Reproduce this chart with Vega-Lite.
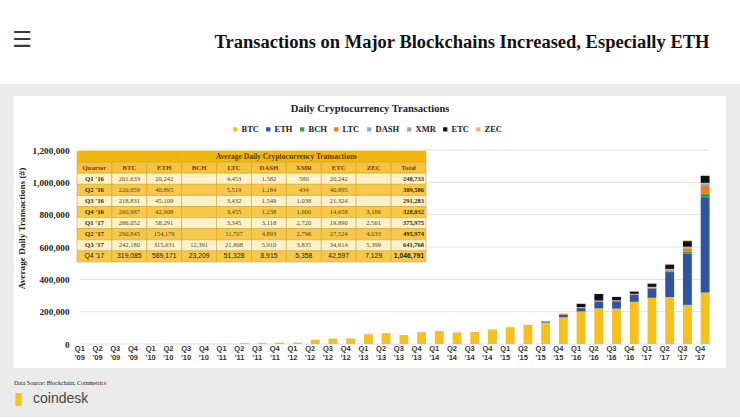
{
  "$schema": "https://vega.github.io/schema/vega-lite/v6.json",
  "background": "#EBEBEB",
  "padding": 0,
  "spacing": 12,
  "center": true,
  "config": {"view": {"stroke": null}},
  "datasets": {
    "tx": [
      {"q": "Q1 '09", "coin": "BTC", "v": 50},
      {"q": "Q2 '09", "coin": "BTC", "v": 100},
      {"q": "Q3 '09", "coin": "BTC", "v": 150},
      {"q": "Q4 '09", "coin": "BTC", "v": 200},
      {"q": "Q1 '10", "coin": "BTC", "v": 300},
      {"q": "Q2 '10", "coin": "BTC", "v": 450},
      {"q": "Q3 '10", "coin": "BTC", "v": 700},
      {"q": "Q4 '10", "coin": "BTC", "v": 900},
      {"q": "Q1 '11", "coin": "BTC", "v": 1500},
      {"q": "Q2 '11", "coin": "BTC", "v": 5500},
      {"q": "Q3 '11", "coin": "BTC", "v": 7000},
      {"q": "Q4 '11", "coin": "BTC", "v": 8500},
      {"q": "Q1 '12", "coin": "BTC", "v": 9000},
      {"q": "Q2 '12", "coin": "BTC", "v": 25000},
      {"q": "Q3 '12", "coin": "BTC", "v": 32000},
      {"q": "Q4 '12", "coin": "BTC", "v": 34000},
      {"q": "Q1 '13", "coin": "BTC", "v": 57000},
      {"q": "Q2 '13", "coin": "BTC", "v": 63000},
      {"q": "Q3 '13", "coin": "BTC", "v": 53000},
      {"q": "Q4 '13", "coin": "BTC", "v": 69000},
      {"q": "Q1 '14", "coin": "BTC", "v": 77000},
      {"q": "Q2 '14", "coin": "BTC", "v": 68000},
      {"q": "Q3 '14", "coin": "BTC", "v": 71000},
      {"q": "Q4 '14", "coin": "BTC", "v": 86000},
      {"q": "Q1 '15", "coin": "BTC", "v": 100000},
      {"q": "Q2 '15", "coin": "BTC", "v": 113000},
      {"q": "Q3 '15", "coin": "BTC", "v": 132000},
      {"q": "Q4 '15", "coin": "BTC", "v": 165000},
      {"q": "Q1 '16", "coin": "BTC", "v": 201633},
      {"q": "Q2 '16", "coin": "BTC", "v": 220659},
      {"q": "Q3 '16", "coin": "BTC", "v": 218831},
      {"q": "Q4 '16", "coin": "BTC", "v": 260987},
      {"q": "Q1 '17", "coin": "BTC", "v": 286052},
      {"q": "Q2 '17", "coin": "BTC", "v": 290845},
      {"q": "Q3 '17", "coin": "BTC", "v": 242180},
      {"q": "Q4 '17", "coin": "BTC", "v": 319085},
      {"q": "Q2 '12", "coin": "LTC", "v": 1000},
      {"q": "Q3 '12", "coin": "LTC", "v": 1000},
      {"q": "Q4 '12", "coin": "LTC", "v": 1000},
      {"q": "Q1 '13", "coin": "LTC", "v": 3000},
      {"q": "Q2 '13", "coin": "LTC", "v": 3000},
      {"q": "Q3 '13", "coin": "LTC", "v": 2500},
      {"q": "Q4 '13", "coin": "LTC", "v": 3000},
      {"q": "Q1 '14", "coin": "LTC", "v": 3000},
      {"q": "Q2 '14", "coin": "LTC", "v": 2500},
      {"q": "Q3 '14", "coin": "LTC", "v": 3000},
      {"q": "Q4 '14", "coin": "LTC", "v": 3000},
      {"q": "Q1 '15", "coin": "LTC", "v": 3000},
      {"q": "Q2 '15", "coin": "LTC", "v": 4000},
      {"q": "Q3 '15", "coin": "LTC", "v": 5000},
      {"q": "Q4 '15", "coin": "LTC", "v": 5000},
      {"q": "Q3 '15", "coin": "ETH", "v": 4000},
      {"q": "Q4 '15", "coin": "ETH", "v": 15000},
      {"q": "Q3 '15", "coin": "DASH", "v": 1500},
      {"q": "Q4 '15", "coin": "DASH", "v": 2000},
      {"q": "Q3 '15", "coin": "XMR", "v": 500},
      {"q": "Q4 '15", "coin": "XMR", "v": 1000},
      {"q": "Q1 '16", "coin": "ETH", "v": 20242},
      {"q": "Q1 '16", "coin": "LTC", "v": 4453},
      {"q": "Q1 '16", "coin": "DASH", "v": 1582},
      {"q": "Q1 '16", "coin": "XMR", "v": 580},
      {"q": "Q1 '16", "coin": "ETC", "v": 20242},
      {"q": "Q2 '16", "coin": "ETH", "v": 40895},
      {"q": "Q2 '16", "coin": "LTC", "v": 5519},
      {"q": "Q2 '16", "coin": "DASH", "v": 1184},
      {"q": "Q2 '16", "coin": "XMR", "v": 434},
      {"q": "Q2 '16", "coin": "ETC", "v": 40895},
      {"q": "Q3 '16", "coin": "ETH", "v": 45109},
      {"q": "Q3 '16", "coin": "LTC", "v": 3432},
      {"q": "Q3 '16", "coin": "DASH", "v": 1549},
      {"q": "Q3 '16", "coin": "XMR", "v": 1038},
      {"q": "Q3 '16", "coin": "ETC", "v": 21324},
      {"q": "Q4 '16", "coin": "ETH", "v": 42908},
      {"q": "Q4 '16", "coin": "LTC", "v": 3455},
      {"q": "Q4 '16", "coin": "DASH", "v": 1238},
      {"q": "Q4 '16", "coin": "XMR", "v": 1600},
      {"q": "Q4 '16", "coin": "ETC", "v": 14658},
      {"q": "Q4 '16", "coin": "ZEC", "v": 3186},
      {"q": "Q1 '17", "coin": "ETH", "v": 58291},
      {"q": "Q1 '17", "coin": "LTC", "v": 3345},
      {"q": "Q1 '17", "coin": "DASH", "v": 3118},
      {"q": "Q1 '17", "coin": "XMR", "v": 2720},
      {"q": "Q1 '17", "coin": "ETC", "v": 19890},
      {"q": "Q1 '17", "coin": "ZEC", "v": 2561},
      {"q": "Q2 '17", "coin": "ETH", "v": 154176},
      {"q": "Q2 '17", "coin": "LTC", "v": 11707},
      {"q": "Q2 '17", "coin": "DASH", "v": 4893},
      {"q": "Q2 '17", "coin": "XMR", "v": 2796},
      {"q": "Q2 '17", "coin": "ETC", "v": 27524},
      {"q": "Q2 '17", "coin": "ZEC", "v": 4033},
      {"q": "Q3 '17", "coin": "ETH", "v": 315631},
      {"q": "Q3 '17", "coin": "BCH", "v": 12391},
      {"q": "Q3 '17", "coin": "LTC", "v": 21808},
      {"q": "Q3 '17", "coin": "DASH", "v": 5910},
      {"q": "Q3 '17", "coin": "XMR", "v": 3835},
      {"q": "Q3 '17", "coin": "ETC", "v": 34614},
      {"q": "Q3 '17", "coin": "ZEC", "v": 5399},
      {"q": "Q4 '17", "coin": "ETH", "v": 589171},
      {"q": "Q4 '17", "coin": "BCH", "v": 23209},
      {"q": "Q4 '17", "coin": "LTC", "v": 51328},
      {"q": "Q4 '17", "coin": "DASH", "v": 8915},
      {"q": "Q4 '17", "coin": "XMR", "v": 5358},
      {"q": "Q4 '17", "coin": "ETC", "v": 42597},
      {"q": "Q4 '17", "coin": "ZEC", "v": 7129}
    ],
    "grid": [{"v": 0}, {"v": 200000}, {"v": 400000}, {"v": 600000}, {"v": 800000}, {"v": 1000000}, {"v": 1200000}],
    "cols": [{"c": "Quarter"}, {"c": "BTC"}, {"c": "ETH"}, {"c": "BCH"}, {"c": "LTC"}, {"c": "DASH"}, {"c": "XMR"}, {"c": "ETC"}, {"c": "ZEC"}, {"c": "Total"}],
    "table": [
      {"Quarter": "Q1 '16", "BTC": "201,633", "ETH": "20,242", "BCH": "", "LTC": "4,453", "DASH": "1,582", "XMR": "580", "ETC": "20,242", "ZEC": "", "Total": "248,733"},
      {"Quarter": "Q2 '16", "BTC": "220,659", "ETH": "40,895", "BCH": "", "LTC": "5,519", "DASH": "1,184", "XMR": "434", "ETC": "40,895", "ZEC": "", "Total": "309,586"},
      {"Quarter": "Q3 '16", "BTC": "218,831", "ETH": "45,109", "BCH": "", "LTC": "3,432", "DASH": "1,549", "XMR": "1,038", "ETC": "21,324", "ZEC": "", "Total": "291,283"},
      {"Quarter": "Q4 '16", "BTC": "260,987", "ETH": "42,908", "BCH": "", "LTC": "3,455", "DASH": "1,238", "XMR": "1,600", "ETC": "14,658", "ZEC": "3,186", "Total": "328,032"},
      {"Quarter": "Q1 '17", "BTC": "286,052", "ETH": "58,291", "BCH": "", "LTC": "3,345", "DASH": "3,118", "XMR": "2,720", "ETC": "19,890", "ZEC": "2,561", "Total": "375,975"},
      {"Quarter": "Q2 '17", "BTC": "290,845", "ETH": "154,176", "BCH": "", "LTC": "11,707", "DASH": "4,893", "XMR": "2,796", "ETC": "27,524", "ZEC": "4,033", "Total": "495,974"},
      {"Quarter": "Q3 '17", "BTC": "242,180", "ETH": "315,631", "BCH": "12,391", "LTC": "21,808", "DASH": "5,910", "XMR": "3,835", "ETC": "34,614", "ZEC": "5,399", "Total": "641,768"},
      {"Quarter": "Q4 '17", "BTC": "319,085", "ETH": "589,171", "BCH": "23,209", "LTC": "51,328", "DASH": "8,915", "XMR": "5,358", "ETC": "42,597", "ZEC": "7,129", "Total": "1,046,791"}
    ]
  },
  "vconcat": [
    {
      "width": 740,
      "height": 84,
      "view": {"fill": "#FFFFFF", "stroke": null},
      "layer": [
        {
          "data": {"values": [{"t": "☰"}]},
          "mark": {"type": "text", "font": "DejaVu Sans", "fontSize": 22, "fontWeight": "bold", "color": "#3a3a3a", "dx": -348, "dy": -2},
          "encoding": {"text": {"field": "t"}}
        },
        {
          "data": {"values": [{"t": "Transactions on Major Blockchains Increased, Especially ETH"}]},
          "mark": {"type": "text", "font": "Liberation Serif", "fontWeight": "bold", "fontSize": 18.5, "color": "#111111", "dx": 92},
          "encoding": {"text": {"field": "t"}}
        }
      ]
    },
    {
      "width": 712,
      "height": 272,
      "view": {"fill": "#FFFFFF", "stroke": null},
      "title": {"text": "Daily Cryptocurrency Transactions", "offset": -18, "anchor": "middle", "font": "Liberation Serif", "fontSize": 10.5, "fontWeight": "bold", "color": "#222222"},
      "resolve": {"scale": {"x": "independent", "y": "independent"}, "axis": {"x": "independent", "y": "independent"}},
      "layer": [
        {
          "layer": [
            {
              "data": {"name": "grid"},
              "mark": {"type": "rule", "color": "#E0E0E0", "strokeWidth": 1},
              "encoding": {
                "y": {"field": "v", "type": "quantitative"},
                "x": {"datum": "Q1 '09", "type": "ordinal", "bandPosition": 0},
                "x2": {"datum": "Q4 '17", "bandPosition": 1}
              }
            },
            {
              "data": {"name": "tx"},
              "transform": [{"calculate": "indexof(['BTC','ETH','BCH','LTC','DASH','XMR','ETC','ZEC'], datum.coin)", "as": "k"}],
              "mark": {"type": "bar"},
              "encoding": {
                "x": {
                  "field": "q", "type": "ordinal",
                  "scale": {
                    "domain": ["Q1 '09","Q2 '09","Q3 '09","Q4 '09","Q1 '10","Q2 '10","Q3 '10","Q4 '10","Q1 '11","Q2 '11","Q3 '11","Q4 '11","Q1 '12","Q2 '12","Q3 '12","Q4 '12","Q1 '13","Q2 '13","Q3 '13","Q4 '13","Q1 '14","Q2 '14","Q3 '14","Q4 '14","Q1 '15","Q2 '15","Q3 '15","Q4 '15","Q1 '16","Q2 '16","Q3 '16","Q4 '16","Q1 '17","Q2 '17","Q3 '17","Q4 '17"],
                    "range": [62, 700], "paddingInner": 0.5, "paddingOuter": 0.25
                  },
                  "axis": {
                    "title": null, "offset": -24, "domain": false, "ticks": false, "grid": false,
                    "labelAngle": 0, "labelFont": "Liberation Sans", "labelFontWeight": "bold", "labelFontSize": 7.5,
                    "labelColor": "#333333", "labelPadding": 4, "labelLineHeight": 9.5, "labelOverlap": false,
                    "labelExpr": "split(datum.label, ' ')"
                  }
                },
                "y": {
                  "field": "v", "type": "quantitative", "stack": "zero",
                  "scale": {"domain": [0, 1200000], "range": [248, 54]},
                  "axis": {
                    "title": "Average Daily Transactions (#)", "offset": -62, "domain": false, "ticks": false, "grid": false,
                    "values": [0, 200000, 400000, 600000, 800000, 1000000, 1200000],
                    "labelExpr": "format(datum.value, ',')",
                    "labelFont": "Liberation Serif", "labelFontWeight": "bold", "labelFontSize": 9.25, "labelColor": "#222222", "labelPadding": 7,
                    "titleFont": "Liberation Serif", "titleFontWeight": "bold", "titleFontSize": 9.25, "titleColor": "#222222", "titlePadding": 6, "titleY": 132
                  }
                },
                "color": {
                  "field": "coin", "type": "nominal",
                  "scale": {"domain": ["BTC","ETH","BCH","LTC","DASH","XMR","ETC","ZEC"], "range": ["#F7C01C","#2E54A2","#3F9B3F","#EE7E25","#8EAAD8","#A5A5A5","#111111","#F7AE8F"]},
                  "legend": {
                    "title": null, "orient": "none", "legendX": 231, "legendY": 125, "direction": "horizontal", "columns": 8,
                    "symbolType": "square", "symbolSize": 18, "symbolStrokeWidth": 0, "columnPadding": 5, "labelOffset": 2,
                    "labelFont": "Liberation Serif", "labelFontWeight": "bold", "labelFontSize": 8.5, "labelColor": "#222222"
                  }
                },
                "order": {"field": "k", "type": "quantitative"}
              }
            }
          ]
        },
        {
          "layer": [
            {
              "data": {"name": "cols"},
              "mark": {"type": "rect", "fill": "#F1B70F", "stroke": "#F1B70F", "strokeWidth": 0.5},
              "encoding": {
                "x": {"field": "c", "type": "nominal", "scale": {"domain": ["Quarter","BTC","ETH","BCH","LTC","DASH","XMR","ETC","ZEC","Total"], "range": [63, 412], "paddingInner": 0, "paddingOuter": 0}, "axis": null},
                "y": {"datum": "title", "type": "nominal", "scale": {"domain": ["title","hdr","Q1 '16","Q2 '16","Q3 '16","Q4 '16","Q1 '17","Q2 '17","Q3 '17","Q4 '17"], "range": [55, 166], "paddingInner": 0, "paddingOuter": 0}, "axis": null}
              }
            },
            {
              "data": {"name": "cols"},
              "mark": {"type": "rect", "fill": "#F5C342", "stroke": "#CFA12A", "strokeWidth": 0.6},
              "encoding": {
                "x": {"field": "c", "type": "nominal", "axis": null},
                "y": {"datum": "hdr", "type": "nominal", "axis": null}
              }
            },
            {
              "data": {"name": "table"},
              "transform": [{"fold": ["Quarter","BTC","ETH","BCH","LTC","DASH","XMR","ETC","ZEC","Total"], "as": ["c","t"]}],
              "mark": {"type": "rect", "stroke": "#D3A733", "strokeWidth": 0.6},
              "encoding": {
                "x": {"field": "c", "type": "nominal", "axis": null},
                "y": {"field": "Quarter", "type": "nominal", "axis": null},
                "fill": {"condition": {"test": "indexof([\"Q2 '16\",\"Q4 '16\",\"Q2 '17\",\"Q4 '17\"], datum.Quarter) >= 0", "value": "#F8C84B"}, "value": "#FFF2CB"}
              }
            },
            {
              "data": {"values": [{"t": "Average Daily Cryptocurrency Transactions"}]},
              "mark": {"type": "text", "font": "Liberation Serif", "fontWeight": "bold", "fontSize": 7.5, "color": "#5A3D00"},
              "encoding": {
                "x": {"datum": "XMR", "type": "nominal", "bandPosition": 0, "axis": null},
                "y": {"datum": "title", "type": "nominal", "axis": null},
                "text": {"field": "t"}
              }
            },
            {
              "data": {"name": "cols"},
              "mark": {"type": "text", "font": "Liberation Serif", "fontWeight": "bold", "fontSize": 6.8, "color": "#8A3A10"},
              "encoding": {
                "x": {"field": "c", "type": "nominal", "axis": null},
                "y": {"datum": "hdr", "type": "nominal", "axis": null},
                "text": {"field": "c"}
              }
            },
            {
              "data": {"name": "table"},
              "transform": [{"fold": ["Quarter","BTC","ETH","BCH","LTC","DASH","XMR","ETC","ZEC","Total"], "as": ["c","t"]}, {"filter": "datum.c === 'Quarter' && datum.Quarter !== \"Q4 '17\""}],
              "mark": {"type": "text", "font": "Liberation Serif", "fontWeight": "bold", "fontSize": 6.8, "color": "#3B2A05"},
              "encoding": {
                "x": {"field": "c", "type": "nominal", "axis": null},
                "y": {"field": "Quarter", "type": "nominal", "axis": null},
                "text": {"field": "t"}
              }
            },
            {
              "data": {"name": "table"},
              "transform": [{"fold": ["Quarter","BTC","ETH","BCH","LTC","DASH","XMR","ETC","ZEC","Total"], "as": ["c","t"]}, {"filter": "datum.c !== 'Quarter' && datum.c !== 'Total' && datum.Quarter !== \"Q4 '17\""}],
              "mark": {"type": "text", "font": "Liberation Serif", "fontSize": 6.5, "color": "#5B4614"},
              "encoding": {
                "x": {"field": "c", "type": "nominal", "axis": null},
                "y": {"field": "Quarter", "type": "nominal", "axis": null},
                "text": {"field": "t"}
              }
            },
            {
              "data": {"name": "table"},
              "transform": [{"fold": ["Quarter","BTC","ETH","BCH","LTC","DASH","XMR","ETC","ZEC","Total"], "as": ["c","t"]}, {"filter": "datum.c === 'Total' && datum.Quarter !== \"Q4 '17\""}],
              "mark": {"type": "text", "font": "Liberation Serif", "fontWeight": "bold", "fontSize": 6.5, "color": "#3B2A05", "align": "right", "dx": -2},
              "encoding": {
                "x": {"field": "c", "type": "nominal", "bandPosition": 1, "axis": null},
                "y": {"field": "Quarter", "type": "nominal", "axis": null},
                "text": {"field": "t"}
              }
            },
            {
              "data": {"name": "table"},
              "transform": [{"fold": ["Quarter","BTC","ETH","BCH","LTC","DASH","XMR","ETC","ZEC","Total"], "as": ["c","t"]}, {"filter": "datum.c !== 'Total' && datum.Quarter === \"Q4 '17\""}],
              "mark": {"type": "text", "font": "Liberation Sans", "fontSize": 6.8, "color": "#222222"},
              "encoding": {
                "x": {"field": "c", "type": "nominal", "axis": null},
                "y": {"field": "Quarter", "type": "nominal", "axis": null},
                "text": {"field": "t"}
              }
            },
            {
              "data": {"name": "table"},
              "transform": [{"fold": ["Quarter","BTC","ETH","BCH","LTC","DASH","XMR","ETC","ZEC","Total"], "as": ["c","t"]}, {"filter": "datum.c === 'Total' && datum.Quarter === \"Q4 '17\""}],
              "mark": {"type": "text", "font": "Liberation Sans", "fontWeight": "bold", "fontSize": 6.8, "color": "#222222", "align": "right", "dx": -2},
              "encoding": {
                "x": {"field": "c", "type": "nominal", "bandPosition": 1, "axis": null},
                "y": {"field": "Quarter", "type": "nominal", "axis": null},
                "text": {"field": "t"}
              }
            }
          ]
        }
      ]
    },
    {
      "width": 712,
      "height": 29,
      "title": {
        "text": "Data Source: Blockchain, Coinmetrics",
        "anchor": "start", "offset": 2,
        "font": "Liberation Serif", "fontSize": 6, "fontWeight": "normal", "color": "#222222"
      },
      "layer": [
        {
          "data": {"values": [{"t": "▮"}]},
          "mark": {"type": "text", "font": "DejaVu Sans", "fontSize": 17, "color": "#F5C518", "align": "left", "dx": -356, "dy": -4},
          "encoding": {"text": {"field": "t"}}
        },
        {
          "data": {"values": [{"t": "coindesk"}]},
          "mark": {"type": "text", "font": "Liberation Sans", "fontSize": 14, "color": "#444444", "align": "left", "dx": -337, "dy": -4},
          "encoding": {"text": {"field": "t"}}
        }
      ]
    }
  ]
}
